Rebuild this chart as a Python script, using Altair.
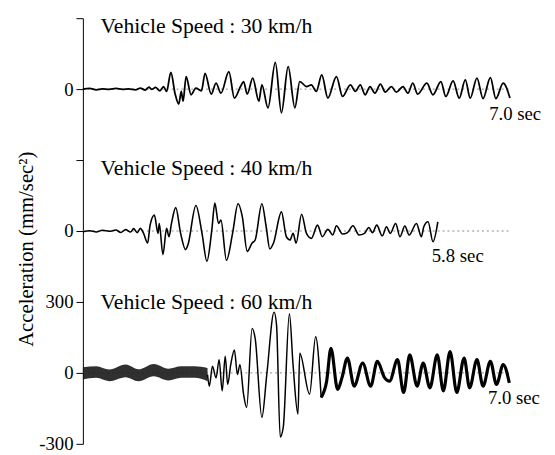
import altair as alt
import pandas as pd

# ---- data (time in s, acceleration in mm/sec^2) ----
t30 = [0, .11, .22, .32, .43, .54, .65, .75, .86, .94, 1.02, 1.08, 1.13, 1.19, 1.26, 1.32, 1.37,
       1.44, 1.51, 1.57, 1.61, 1.64, 1.69, 1.77, 1.85, 1.94, 2.00, 2.10, 2.18, 2.26, 2.39, 2.48,
       2.58, 2.63, 2.69, 2.78, 2.88, 2.93, 3.03, 3.15, 3.25, 3.36, 3.47, 3.55, 3.66, 3.74, 3.82,
       3.91, 4.01, 4.15, 4.25, 4.38, 4.46, 4.54, 4.62, 4.70, 4.78, 4.87, 4.95, 5.05, 5.13, 5.24,
       5.32, 5.40, 5.48, 5.63, 5.73, 5.86, 5.94, 6.06, 6.16, 6.26, 6.34, 6.45, 6.55, 6.67, 6.76,
       6.88, 6.99]
a30 = [0, 3, -3, 1, -1, 3, -1, 1, -3, 4, -4, 8, -1, 7, -7, 11, -10,
       71, -21, -63, -10, -51, 53, -24, 4, -7, 67, -21, 25, -17, 74, -38,
       11, 32, -21, 46, -51, 18, -79, 113, -100, 95, -79, 32, 11, 18, -10,
       60, -38, 53, -31, 18, -10, 18, -24, 11, -17, 21, -13, 11, -13, 11,
       -17, 25, -21, 25, -24, 32, -31, 35, -38, 39, -38, 46, -40, 49, -40,
       25, -38]

t40 = [0, .11, .22, .32, .43, .54, .62, .70, .78, .83, .89, .94, .99, 1.06, 1.10, 1.17, 1.23,
       1.25, 1.31, 1.37, 1.41, 1.45, 1.52, 1.60, 1.68, 1.72, 1.85, 1.95, 2.03, 2.11, 2.16, 2.22,
       2.26, 2.35, 2.45, 2.54, 2.61, 2.69, 2.77, 2.82, 2.93, 3.00, 3.06, 3.12, 3.25, 3.33, 3.39,
       3.44, 3.49, 3.58, 3.66, 3.74, 3.84, 3.92, 4.01, 4.09, 4.15, 4.25, 4.33, 4.42, 4.52, 4.61,
       4.68, 4.74, 4.81, 4.90, 4.97, 5.03, 5.12, 5.19, 5.27, 5.34, 5.46, 5.54, 5.58, 5.65, 5.73,
       5.81]
a40 = [-3, 1, -4, 3, -1, 4, -6, 6, -4, 10, -7, 11, -8, -51, 25, 67, -10,
       32, -100, 11, -24, 32, 99, -10, -79, -58, 108, -10, -128, 4, 118, 32,
       46, -124, -10, 115, 60, -86, -51, -38, 115, 18, -76, -51, 81, -24, -38,
       -10, -51, 71, -10, -31, 25, -24, 7, -17, 22, -13, -7, 22, -17, -10,
       15, -7, 25, -21, 18, -10, 32, -24, 21, -17, 32, -24, 18, 39, -45,
       39]

# 60 km/h: dense noisy band at the start (upper / lower envelope)
t60_band = [0, .22, .43, .70, .91, 1.16, 1.40, 1.61, 1.83, 2.04]
a60_upper = [24, 28, 14, 35, 15, 38, 18, 28, 28, 21]
a60_lower = [-28, -21, -35, -18, -35, -14, -32, -21, -21, -35]

t60 = [2.04, 2.07, 2.12, 2.18, 2.23, 2.28, 2.33, 2.37, 2.42, 2.48, 2.53, 2.57, 2.63, 2.68,
       2.77, 2.82, 2.93, 3.01, 3.13, 3.17, 3.23, 3.28, 3.38, 3.44, 3.52, 3.55, 3.71, 3.81,
       3.90, 3.99, 4.06, 4.17, 4.24, 4.33, 4.44, 4.58, 4.71, 4.82, 4.94, 5.02, 5.15, 5.25,
       5.35, 5.47, 5.57, 5.68, 5.80, 5.90, 6.01, 6.12, 6.24, 6.33, 6.45, 6.55, 6.67, 6.77,
       6.88, 6.98]
a60 = [-7, -56, 28, -21, 56, -76, 70, -49, 35, 97, -7, 35, -90, -146,
       188, 146, -188, -7, 257, 202, -271, -229, 250, 35, -174, 83, -90, 153,
       -104, -35, 104, -70, -21, 63, -56, 42, -56, 49, -21, -35, 56, -83,
       76, -56, 42, -63, 76, -76, 90, -83, 63, -63, 56, -56, 49, -49,
       35, -42]
split60 = 3.90  # thin line before, heavy band-like line after

offsets = {"30": 1200, "40": 600, "60": 0}
trace_ends = [7.0, 7.0, 7.0]
speed_titles = ["Vehicle Speed : 30 km/h", "Vehicle Speed : 40 km/h", "Vehicle Speed : 60 km/h"]
title_levels = [1467, 867, 300]
end_labels = ["7.0 sec", "5.8 sec", "7.0 sec"]
end_label_t = [6.65, 5.71, 6.63]
end_label_levels = [1096, 492, -108]
tick_values = [-300, 0, 300, 600, 900, 1200, 1500]

FONT = "Liberation Serif"

# ---- tables ----
d30 = pd.DataFrame({"t": t30, "y": [a + offsets["30"] for a in a30]})
d40 = pd.DataFrame({"t": t40, "y": [a + offsets["40"] for a in a40]})
dband = pd.DataFrame({"t": t60_band, "y": a60_upper, "y2": a60_lower})
d60 = pd.DataFrame({"t": t60, "y": a60})
d60a = d60[d60.t <= split60]
d60b = d60[d60.t >= split60]
zeros = pd.DataFrame({"t": [0, 0, 0], "t2": trace_ends, "y": list(offsets.values())})
titles = pd.DataFrame({"t": [0.29] * 3, "y": title_levels, "txt": speed_titles})
ends = pd.DataFrame({"t": end_label_t, "y": end_label_levels, "txt": end_labels})

xs = alt.Scale(domain=[0, 7.5], nice=False, zero=False)
ys = alt.Scale(domain=[-300, 1500], nice=False, zero=False)

label_expr = ("datum.value == 600 || datum.value == 1200 ? '0' : "
              "(datum.value == 900 || datum.value == 1500 ? '' : "
              "(datum.value == -300 ? '-300' : datum.label))")

X = alt.X("t:Q", scale=xs, axis=None)
Y = alt.Y("y:Q", scale=ys,
          axis=alt.Axis(values=tick_values, labelExpr=label_expr, grid=False,
                        title="Acceleration (mm/sec²)", titleFont=FONT, titleFontSize=21,
                        titleFontWeight="normal", titleColor="black", titlePadding=2,
                        titleY=234, titleAnchor="middle",
                        labelFont=FONT, labelFontSize=19, labelColor="black", labelPadding=3,
                        tickSize=7, tickColor="black", domainColor="black", domainWidth=1))

zero_layer = alt.Chart(zeros).mark_rule(color="#8a8a8a", strokeDash=[2, 3], strokeWidth=1).encode(
    x=X, x2="t2:Q", y=Y)
l30 = alt.Chart(d30).mark_line(color="black", strokeWidth=1.8, interpolate="monotone").encode(x=X, y=Y)
l40 = alt.Chart(d40).mark_line(color="black", strokeWidth=1.6, interpolate="monotone").encode(x=X, y=Y)
band = alt.Chart(dband).mark_area(color="#1a1a1a", opacity=0.9, interpolate="monotone").encode(
    x=X, y=Y, y2="y2:Q")
l60a = alt.Chart(d60a).mark_line(color="black", strokeWidth=1.5, interpolate="monotone").encode(x=X, y=Y)
l60b = alt.Chart(d60b).mark_line(color="black", strokeWidth=3.2, interpolate="monotone").encode(x=X, y=Y)
tl = alt.Chart(titles).mark_text(font=FONT, fontSize=22, align="left", baseline="middle",
                                 color="black").encode(x=X, y=Y, text="txt:N")
el = alt.Chart(ends).mark_text(font=FONT, fontSize=19, align="left", baseline="middle",
                               color="black").encode(x=X, y=Y, text="txt:N")

chart = alt.layer(zero_layer, l30, l40, band, l60a, l60b, tl, el).properties(
    width=465, height=432,
    autosize=alt.AutoSizeParams(type="none"),
    padding={"left": 76, "top": 7, "right": 6, "bottom": 8},
    background="white",
).configure_view(strokeWidth=0)

chart.save("out.html", embed_options={"renderer": "svg", "actions": False})
